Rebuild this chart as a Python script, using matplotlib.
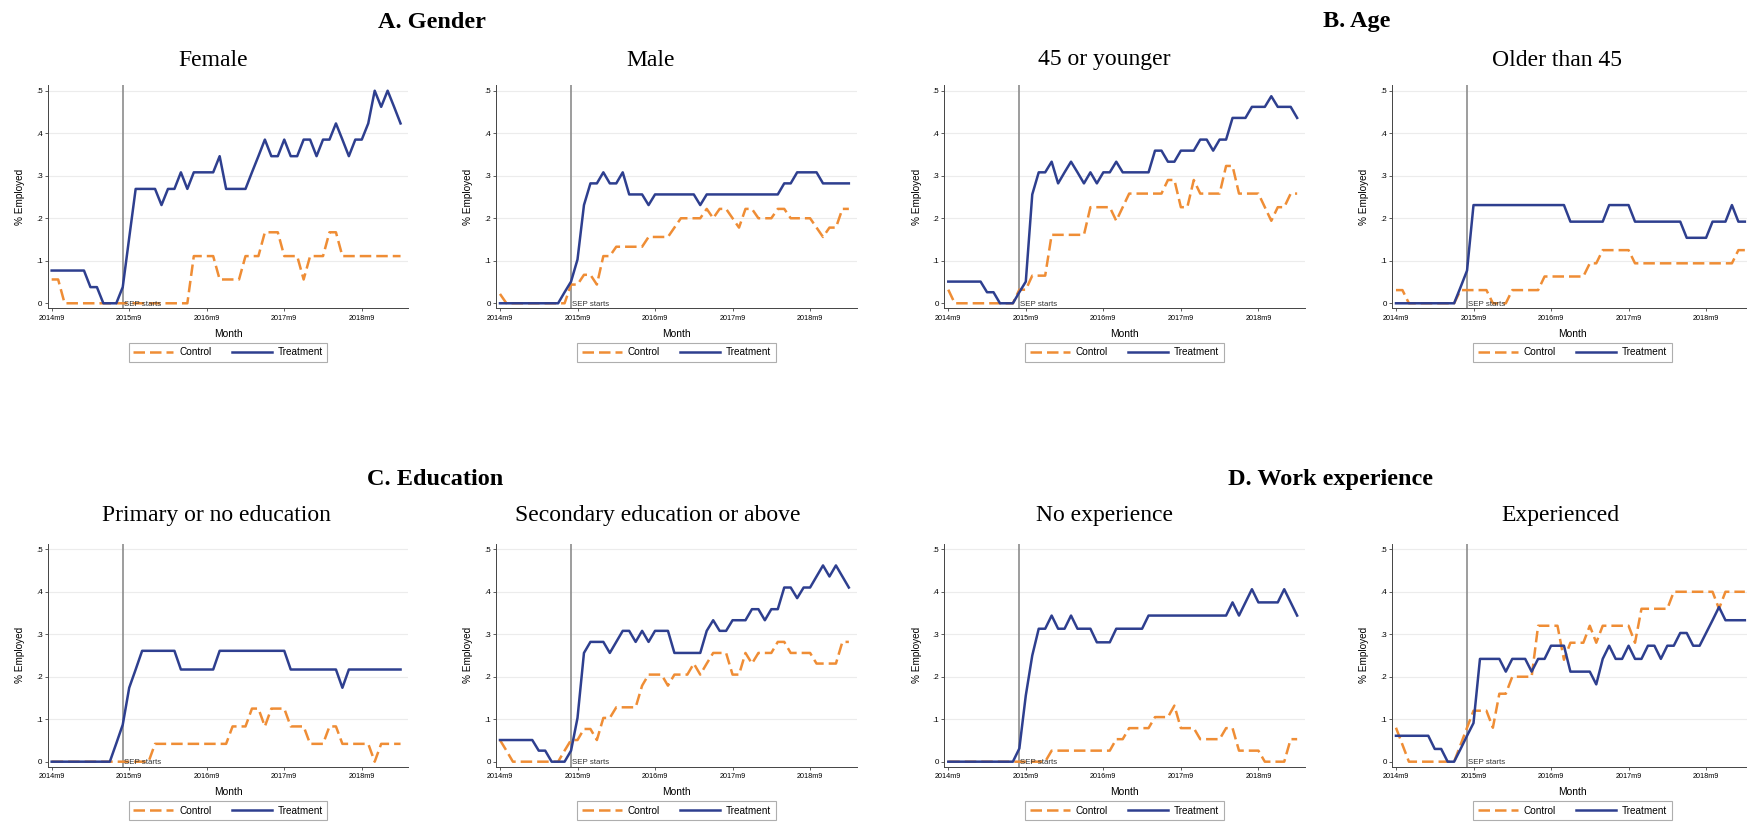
import matplotlib
matplotlib.use("Agg")
import matplotlib.pyplot as plt
import numpy as np

W, H = 1747, 822
fig = plt.figure(figsize=(W / 100, H / 100), dpi=100)
fig.patch.set_facecolor("white")

# ---------------- data ----------------
first_month = "2014m9"
month_ticks = ["2014m9", "2015m9", "2016m9", "2017m9", "2018m9"]
sep_month = "2015m8"
y_ticks = [0, 0.1, 0.2, 0.3, 0.4, 0.5]
y_ticklabels = ["0", ".1", ".2", ".3", ".4", ".5"]
series_names = ["Control", "Treatment"]

section_titles = ["A. Gender", "B. Age", "C. Education", "D. Work experience"]
panel_titles = ["Female", "Male", "45 or younger", "Older than 45",
                "Primary or no education", "Secondary education or above",
                "No experience", "Experienced"]

female_treat = [.077, .077, .077, .077, .077, .077, .038, .038, 0, 0, 0,
                .038, .154, .269, .269, .269, .269, .231, .269, .269, .308, .269,
                .308, .308, .308, .308, .346, .269, .269, .269, .269, .308, .346,
                .385, .346, .346, .385, .346, .346, .385, .385, .346, .385, .385,
                .423, .385, .346, .385, .385, .423, .500, .462, .500, .462, .423]
female_ctrl = [.056, .056, 0, 0, 0, 0, 0, 0, 0, 0, 0,
               0, 0, 0, 0, 0, 0, 0, 0, 0, 0, 0,
               .111, .111, .111, .111, .056, .056, .056, .056, .111, .111, .111,
               .167, .167, .167, .111, .111, .111, .056, .111, .111, .111, .167,
               .167, .111, .111, .111, .111, .111, .111, .111, .111, .111, .111]

male_treat = [0, 0, 0, 0, 0, 0, 0, 0, 0, 0, .026,
              .051, .103, .231, .282, .282, .308, .282, .282, .308, .256, .256,
              .256, .231, .256, .256, .256, .256, .256, .256, .256, .231, .256,
              .256, .256, .256, .256, .256, .256, .256, .256, .256, .256, .256,
              .282, .282, .308, .308, .308, .308, .282, .282, .282, .282, .282]
male_ctrl = [.022, 0, 0, 0, 0, 0, 0, 0, 0, 0, 0,
             .044, .044, .067, .067, .044, .111, .111, .133, .133, .133, .133,
             .133, .156, .156, .156, .156, .178, .200, .200, .200, .200, .222,
             .200, .222, .222, .200, .178, .222, .222, .200, .200, .200, .222,
             .222, .200, .200, .200, .200, .178, .156, .178, .178, .222, .222]

young_treat = [.051, .051, .051, .051, .051, .051, .026, .026, 0, 0, 0,
               .026, .051, .256, .308, .308, .333, .282, .308, .333, .308, .282,
               .308, .282, .308, .308, .333, .308, .308, .308, .308, .308, .359,
               .359, .333, .333, .359, .359, .359, .385, .385, .359, .385, .385,
               .436, .436, .436, .462, .462, .462, .487, .462, .462, .462, .436]
young_ctrl = [.032, 0, 0, 0, 0, 0, 0, 0, 0, 0, 0,
              .032, .032, .065, .065, .065, .161, .161, .161, .161, .161, .161,
              .226, .226, .226, .226, .194, .226, .258, .258, .258, .258, .258,
              .258, .290, .290, .226, .226, .290, .258, .258, .258, .258, .323,
              .323, .258, .258, .258, .258, .226, .194, .226, .226, .258, .258]

old_treat = [0, 0, 0, 0, 0, 0, 0, 0, 0, 0, .038,
             .077, .231, .231, .231, .231, .231, .231, .231, .231, .231, .231,
             .231, .231, .231, .231, .231, .192, .192, .192, .192, .192, .192,
             .231, .231, .231, .231, .192, .192, .192, .192, .192, .192, .192,
             .192, .154, .154, .154, .154, .192, .192, .192, .231, .192, .192]
old_ctrl = [.031, .031, 0, 0, 0, 0, 0, 0, 0, 0, .031,
            .031, .031, .031, .031, 0, 0, 0, .031, .031, .031, .031,
            .031, .063, .063, .063, .063, .063, .063, .063, .094, .094, .125,
            .125, .125, .125, .125, .094, .094, .094, .094, .094, .094, .094,
            .094, .094, .094, .094, .094, .094, .094, .094, .094, .125, .125]

primary_treat = [0, 0, 0, 0, 0, 0, 0, 0, 0, 0, .043,
                 .087, .174, .217, .261, .261, .261, .261, .261, .261, .217, .217,
                 .217, .217, .217, .217, .261, .261, .261, .261, .261, .261, .261,
                 .261, .261, .261, .261, .217, .217, .217, .217, .217, .217, .217,
                 .217, .174, .217, .217, .217, .217, .217, .217, .217, .217, .217]
primary_ctrl = [0, 0, 0, 0, 0, 0, 0, 0, 0, 0, 0,
                0, 0, 0, 0, 0, .042, .042, .042, .042, .042, .042,
                .042, .042, .042, .042, .042, .042, .083, .083, .083, .125, .125,
                .083, .125, .125, .125, .083, .083, .083, .042, .042, .042, .083,
                .083, .042, .042, .042, .042, .042, 0, .042, .042, .042, .042]

secondary_treat = [.051, .051, .051, .051, .051, .051, .026, .026, 0, 0, 0,
                   .026, .103, .256, .282, .282, .282, .256, .282, .308, .308, .282,
                   .308, .282, .308, .308, .308, .256, .256, .256, .256, .256, .308,
                   .333, .308, .308, .333, .333, .333, .359, .359, .333, .359, .359,
                   .410, .410, .385, .410, .410, .436, .462, .436, .462, .436, .410]
secondary_ctrl = [.051, .026, 0, 0, 0, 0, 0, 0, 0, 0, .026,
                  .051, .051, .077, .077, .051, .103, .103, .128, .128, .128, .128,
                  .179, .205, .205, .205, .179, .205, .205, .205, .231, .205, .231,
                  .256, .256, .256, .205, .205, .256, .231, .256, .256, .256, .282,
                  .282, .256, .256, .256, .256, .231, .231, .231, .231, .282, .282]

noexp_treat = [0, 0, 0, 0, 0, 0, 0, 0, 0, 0, 0,
               .031, .156, .250, .313, .313, .344, .313, .313, .344, .313, .313,
               .313, .281, .281, .281, .313, .313, .313, .313, .313, .344, .344,
               .344, .344, .344, .344, .344, .344, .344, .344, .344, .344, .344,
               .375, .344, .375, .406, .375, .375, .375, .375, .406, .375, .344]
noexp_ctrl = [0, 0, 0, 0, 0, 0, 0, 0, 0, 0, 0,
              0, 0, 0, 0, 0, .026, .026, .026, .026, .026, .026,
              .026, .026, .026, .026, .053, .053, .079, .079, .079, .079, .105,
              .105, .105, .132, .079, .079, .079, .053, .053, .053, .053, .079,
              .079, .026, .026, .026, .026, 0, 0, 0, 0, .053, .053]

exp_treat = [.061, .061, .061, .061, .061, .061, .030, .030, 0, 0, .030,
             .061, .091, .242, .242, .242, .242, .212, .242, .242, .242, .212,
             .242, .242, .273, .273, .273, .212, .212, .212, .212, .182, .242,
             .273, .242, .242, .273, .242, .242, .273, .273, .242, .273, .273,
             .303, .303, .273, .273, .303, .333, .364, .333, .333, .333, .333]
exp_ctrl = [.08, .04, 0, 0, 0, 0, 0, 0, 0, 0, .04,
            .08, .12, .12, .12, .08, .16, .16, .20, .20, .20, .20,
            .32, .32, .32, .32, .24, .28, .28, .28, .32, .28, .32,
            .32, .32, .32, .32, .28, .36, .36, .36, .36, .36, .40,
            .40, .40, .40, .40, .40, .40, .36, .40, .40, .40, .40]

controls = [female_ctrl, male_ctrl, young_ctrl, old_ctrl,
            primary_ctrl, secondary_ctrl, noexp_ctrl, exp_ctrl]
treats = [female_treat, male_treat, young_treat, old_treat,
          primary_treat, secondary_treat, noexp_treat, exp_treat]


def month_index(lbl):
    y, m = lbl.split("m")
    fy, fm = first_month.split("m")
    return (int(y) - int(fy)) * 12 + int(m) - int(fm)


# ---------------- style ----------------
C_CTRL = "#ef8d35"
C_TREAT = "#2e3f8f"
SANS = "Liberation Sans"
SERIF = "Liberation Serif"

# layout (pixels)
lefts_px = [47.8, 496.1, 944.4, 1392.1]
width_px = 360.5
rows = [(85.0, 308.3), (543.6, 766.7)]  # top, bottom

for i in range(8):
    r, c = divmod(i, 4)
    top, bot = rows[r]
    ax = fig.add_axes([lefts_px[c] / W, 1 - bot / H, width_px / W, (bot - top) / H])
    x = np.arange(len(treats[i]))
    ax.set_xlim(-0.6, 55.2)
    ax.set_ylim(-0.0118, 0.5134)
    for yv in y_ticks[1:]:
        ax.axhline(yv, color="#ececec", lw=0.8, zorder=0)
    ax.axvline(month_index(sep_month), color="#8c8c8c", lw=1.2, zorder=1)
    l1, = ax.plot(x, controls[i], color=C_CTRL, lw=1.8, dashes=(4.6, 2.0),
                  solid_joinstyle="round", dash_joinstyle="round", zorder=2)
    l2, = ax.plot(x, treats[i], color=C_TREAT, lw=1.8, solid_joinstyle="round", zorder=3)
    ax.text(month_index(sep_month) + 0.15, -0.003, "SEP starts", fontsize=5.7,
            family=SANS, color="#333333", ha="left", va="center", zorder=4)

    ax.set_xticks([month_index(t) for t in month_ticks])
    ax.set_xticklabels(month_ticks, fontsize=5.2, family=SANS)
    ax.set_yticks(y_ticks)
    ax.set_yticklabels(y_ticklabels, fontsize=5.8, family=SANS)
    ax.tick_params(axis="both", length=2.2, width=0.6, color="#444444", pad=1.6)
    ax.tick_params(axis="x", pad=2.4)
    for s in ["top", "right"]:
        ax.spines[s].set_visible(False)
    for s in ["left", "bottom"]:
        ax.spines[s].set_color("#444444")
        ax.spines[s].set_linewidth(0.7)
    ax.set_ylabel("% Employed", fontsize=7.2, family=SANS)
    ax.yaxis.set_label_coords(-0.063, 0.5)
    ax.set_xlabel("Month", fontsize=7.4, family=SANS)
    ax.xaxis.set_label_coords(0.5, -0.092)

    leg = ax.legend([l1, l2], series_names, loc="upper center",
                    bbox_to_anchor=(0.5, -0.154), ncol=2, frameon=True,
                    fancybox=False, edgecolor="#9a9a9a",
                    prop={"family": SANS, "size": 7.2},
                    handlelength=4.0, handletextpad=0.6, columnspacing=2.0,
                    borderpad=0.45, borderaxespad=0)
    leg.get_frame().set_linewidth(0.8)

# titles
sec_pos = [(432, 22), (1357, 22), (435, 479), (1330, 479)]
for t, (px, py) in zip(section_titles, sec_pos):
    fig.text(px / W, 1 - py / H, t, family=SERIF, fontweight="bold",
             fontsize=17.5, ha="center", va="center")

sub_pos = [(213, 60), (651, 60), (1104, 60), (1557, 60),
           (216, 516), (658, 516), (1105, 516), (1560, 516)]
for t, (px, py) in zip(panel_titles, sub_pos):
    fig.text(px / W, 1 - py / H, t, family=SERIF, fontsize=17,
             ha="center", va="center")

fig.savefig("out.png", dpi=100, facecolor="white")
